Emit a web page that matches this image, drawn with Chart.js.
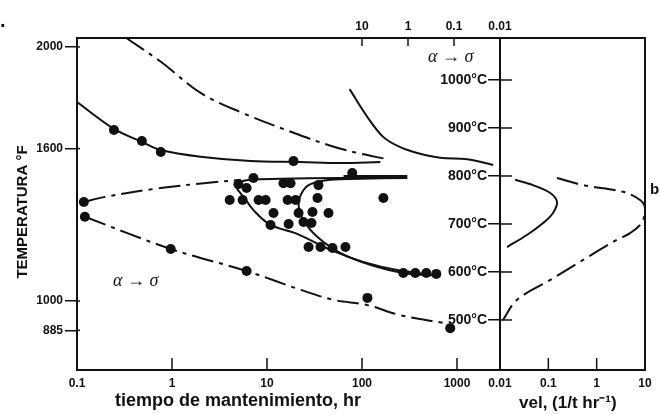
<!DOCTYPE html>
<html>
<head>
<meta charset="utf-8">
<script src="https://cdn.jsdelivr.net/npm/chart.js@4.4.1/dist/chart.umd.min.js"></script>
<style>
  body { margin: 0; background: #fff; }
  #wrap { position: relative; width: 660px; height: 415px; overflow: hidden; }
  canvas { position: absolute; top: 0; }
  #main { left: 0; }
  #rate { left: 400px; }
</style>
</head>
<body>
<div id="wrap">
  <canvas id="main" width="530" height="415"></canvas>
  <canvas id="rate" width="260" height="415"></canvas>
</div>
<script>
// ---- ticks ----
const timeTicks = [0.1, 1, 10, 100, 1000];
const topRateTicks = [10, 1, 0.1, 0.01];
const rateTicks = [0.01, 0.1, 1, 10];
const tempFTicks = [885, 1000, 1600, 2000];
const tempCTicks = [500, 600, 700, 800, 900, 1000];

// ---- curves: tiempo (hr) vs temperatura (°C) ----
const topDashT = [0.327, 0.763, 2.0, 5.28, 19.0, 46.6, 89.5, 185];
const topDashC = [1088, 1038, 973, 933, 890, 863, 848, 835];

const upperT = [0.1, 0.245, 0.482, 0.763, 2.0, 6.7, 22.5, 59, 156];
const upperC = [954, 898, 871, 854, 840, 831, 829, 827, 829];

const solvusT = [74, 114, 168, 253, 382, 666, 1280, 2400];
const solvusC = [981, 923, 881, 860, 848, 838, 835, 823];

const midDashT = [0.118, 0.192, 0.644, 2.16, 5.3];
const midDashC = [746, 756, 773, 785, 792];

const outerT = [666, 235, 103, 46.6, 21.0, 10.9, 7.2, 5.7, 4.8, 4.9, 6.7, 13.9, 59, 286];
const outerC = [592, 604, 621, 646, 679, 698, 729, 756, 775, 785, 792, 794, 796, 798];

const innerT = [666, 272, 122, 59, 34, 24.2, 21.5, 23.6, 28.7, 46.6, 96, 286];
const innerC = [592, 598, 615, 640, 673, 708, 740, 767, 783, 792, 794, 796];

const barT = [64, 300];
const barC = [798, 798];

const lowDashT = [0.121, 0.97, 6.1, 22.5, 50, 114, 253, 716];
const lowDashC = [715, 648, 602, 563, 542, 531, 510, 494];

// mediciones
const dotT = [0.245, 0.482, 0.763, 19.0, 79, 0.118, 0.121, 0.97, 6.1, 114, 848,
              5.0, 6.1, 7.2, 14.9, 17.7, 34.8,
              4.05, 5.54, 8.16, 9.67, 16.5, 20.0, 34.0, 168,
              11.7, 21.5, 30.1, 44.4,
              10.9, 16.9, 24.2, 29.4,
              27.4, 36.6, 48.9, 66.9,
              272, 364, 475, 605];
const dotC = [896, 873, 850, 831, 806, 746, 715, 648, 602, 546, 483,
              783, 775, 796, 785, 785, 781,
              750, 750, 750, 750, 750, 750, 754, 754,
              723, 723, 725, 723,
              698, 700, 704, 702,
              652, 652, 650, 652,
              598, 598, 598, 596];

// ---- velocidad (1/t hr^-1) vs temperatura (°C) ----
const rateSolidV = [0.0205, 0.048, 0.108, 0.151, 0.125, 0.078, 0.036, 0.014];
const rateSolidC = [792, 781, 765, 746, 723, 702, 677, 652];

const rateDashV = [0.151, 0.52, 3.5, 7.9, 10, 8.7, 4.9, 2.6, 0.52, 0.108, 0.0225, 0.0115];
const rateDashC = [796, 781, 767, 750, 733, 704, 681, 667, 625, 583, 542, 500];

const ink = '#111';
const sans = "'Liberation Sans', Arial, sans-serif";
const serif = "'Liberation Serif', 'Times New Roman', serif";
const dashDot = [22, 6, 4, 6];
const cMin = 395.8, cMax = 1087.5;

const pts = (xs, ys) => xs.map((x, i) => ({ x, y: ys[i] }));

function curve(xs, ys, dashed, width) {
  return {
    data: pts(xs, ys),
    showLine: true,
    pointRadius: 0,
    borderColor: ink,
    borderWidth: width || 2,
    borderDash: dashed ? dashDot : [],
    tension: 0.35
  };
}

const tickFont = { size: 12, weight: 'bold', family: sans };
const setTicks = vals => scale => { scale.ticks = vals.map(v => ({ value: v })); };
const noGrid = { display: false, drawTicks: false };

// marco del area de trazado
const frame = {
  id: 'frame',
  afterDatasetsDraw(chart) {
    const { ctx, chartArea: a } = chart;
    ctx.save();
    ctx.strokeStyle = ink;
    ctx.lineWidth = 2;
    ctx.strokeRect(a.left, a.top, a.right - a.left, a.bottom - a.top);
    ctx.restore();
  }
};

// marcas hacia adentro
function innerTicks(lens) {
  return {
    id: 'innerTicks',
    afterDatasetsDraw(chart) {
      const { ctx, chartArea: a } = chart;
      ctx.save();
      ctx.strokeStyle = ink;
      ctx.lineWidth = 1.5;
      Object.keys(lens).forEach(id => {
        const s = chart.scales[id];
        const len = lens[id];
        s.ticks.forEach(t => {
          const p = s.getPixelForValue(t.value);
          ctx.beginPath();
          if (s.isHorizontal()) {
            const y0 = s.position === 'top' ? a.top : a.bottom;
            ctx.moveTo(p, y0);
            ctx.lineTo(p, y0 + (s.position === 'top' ? len : -len));
          } else {
            ctx.moveTo(a.left, p);
            ctx.lineTo(a.left + len, p);
          }
          ctx.stroke();
        });
      });
      ctx.restore();
    }
  };
}

function label(ctx, str, x, y, font, align, rot) {
  ctx.save();
  ctx.fillStyle = ink;
  ctx.font = font;
  ctx.textAlign = align || 'left';
  ctx.textBaseline = 'middle';
  ctx.translate(x, y);
  if (rot) ctx.rotate(rot);
  ctx.fillText(str, 0, 0);
  ctx.restore();
}

const mainNotes = {
  id: 'mainNotes',
  afterDraw(chart) {
    const ctx = chart.ctx;
    label(ctx, '.', 0, 21, 'bold 20px ' + sans);
    label(ctx, 'TEMPERATURA °F', 23, 212, 'bold 15px ' + sans, 'center', -Math.PI / 2);
    label(ctx, 'tiempo de mantenimiento, hr', 115, 401, 'bold 18px ' + sans);
    label(ctx, 'α → σ', 113, 281, 'italic 18px ' + serif);
    label(ctx, 'α → σ', 428, 57, 'italic 18px ' + serif);
  }
};

const rateNotes = {
  id: 'rateNotes',
  afterDraw(chart) {
    const ctx = chart.ctx;
    label(ctx, 'vel, (1/t hr⁻¹)', 119, 403, 'bold 17px ' + sans);
    label(ctx, 'b', 250, 190, 'bold 15px ' + sans);
  }
};

const common = {
  responsive: false,
  animation: false,
  events: [],
  plugins: { legend: { display: false }, tooltip: { enabled: false } }
};

new Chart(document.getElementById('main'), {
  type: 'scatter',
  data: {
    datasets: [
      curve(topDashT, topDashC, true),
      curve(upperT, upperC, false),
      curve(solvusT, solvusC, false),
      curve(midDashT, midDashC, true),
      curve(outerT, outerC, false),
      curve(innerT, innerC, false),
      curve(barT, barC, false, 4),
      curve(lowDashT, lowDashC, true),
      {
        data: pts(dotT, dotC),
        showLine: false,
        pointRadius: 5,
        pointBackgroundColor: ink,
        pointBorderWidth: 0
      }
    ]
  },
  options: {
    ...common,
    layout: { padding: { left: 0, right: 30, top: 0, bottom: 0 } },
    scales: {
      x: {
        type: 'logarithmic', position: 'bottom', min: 0.1, max: 2835,
        afterBuildTicks: setTicks(timeTicks),
        afterFit: s => { s.height = 45; },
        grid: noGrid, border: { display: false },
        ticks: { color: ink, font: tickFont, padding: 6, maxRotation: 0, autoSkip: false, callback: v => String(v) }
      },
      x2: {
        type: 'logarithmic', position: 'top', reverse: true, min: 0.01, max: 1.57e7,
        afterBuildTicks: setTicks(topRateTicks),
        afterFit: s => { s.height = 38; },
        grid: noGrid, border: { display: false },
        ticks: { color: ink, font: tickFont, padding: 4, maxRotation: 0, autoSkip: false, callback: v => String(v) }
      },
      y: { type: 'linear', display: false, min: cMin, max: cMax },
      yF: {
        type: 'linear', position: 'left', min: 728.8, max: 2035,
        afterBuildTicks: setTicks(tempFTicks),
        afterFit: s => { s.width = 77; },
        grid: { display: true, drawOnChartArea: false, tickLength: 12, color: ink, lineWidth: 1.5 },
        border: { display: false },
        ticks: { color: ink, font: tickFont, padding: 2, callback: v => String(v) }
      }
    }
  },
  plugins: [frame, innerTicks({ x: 12, x2: 8, yF: 3 }), mainNotes]
});

new Chart(document.getElementById('rate'), {
  type: 'scatter',
  data: {
    datasets: [
      curve(rateSolidV, rateSolidC, false),
      curve(rateDashV, rateDashC, true)
    ]
  },
  options: {
    ...common,
    layout: { padding: { left: 0, right: 15, top: 38, bottom: 0 } },
    scales: {
      x: {
        type: 'logarithmic', position: 'bottom', min: 0.01, max: 10,
        afterBuildTicks: setTicks(rateTicks),
        afterFit: s => { s.height = 45; },
        grid: noGrid, border: { display: false },
        ticks: { color: ink, font: tickFont, padding: 6, maxRotation: 0, autoSkip: false, callback: v => String(v) }
      },
      y: {
        type: 'linear', position: 'left', min: cMin, max: cMax,
        afterBuildTicks: setTicks(tempCTicks),
        afterFit: s => { s.width = 100; },
        grid: { display: true, drawOnChartArea: false, tickLength: 12, color: ink, lineWidth: 1.5 },
        border: { display: false },
        ticks: { color: ink, font: { size: 14, weight: 'bold', family: sans }, padding: 1, callback: v => v + '°C' }
      }
    }
  },
  plugins: [frame, innerTicks({ x: 12, y: 12 }), rateNotes]
});
</script>
</body>
</html>
